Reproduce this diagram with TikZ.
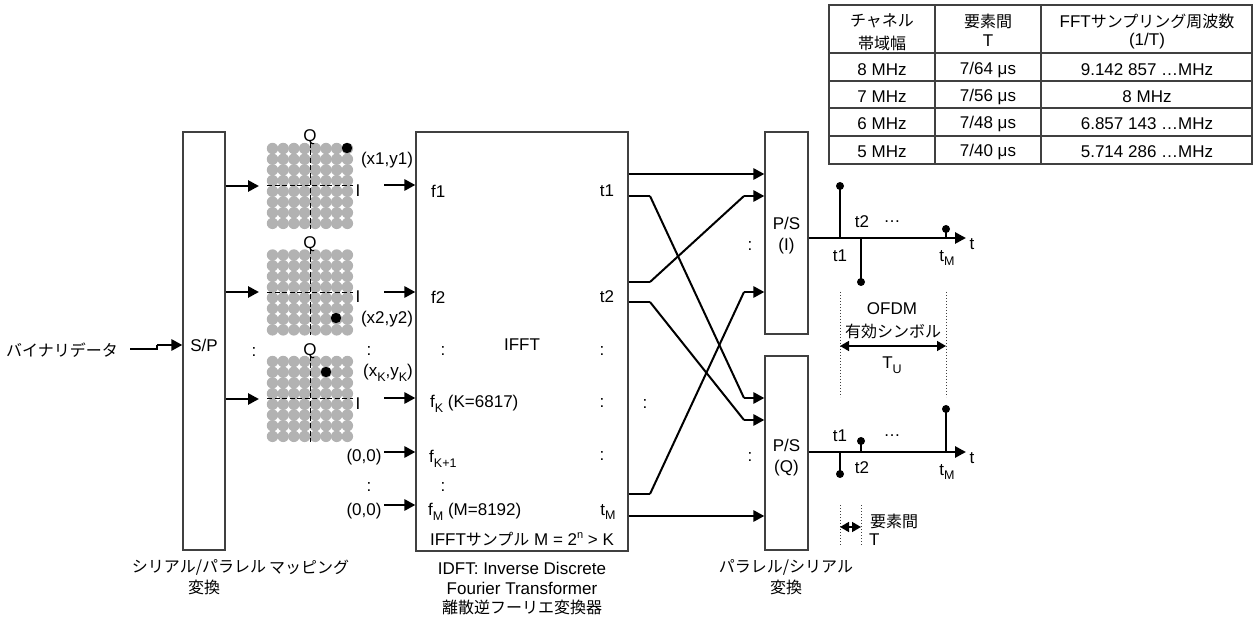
\documentclass[tikz,border=0pt]{standalone}
\usepackage{fontspec}
\usepackage{tikz}
\usetikzlibrary{arrows.meta}
\setmainfont{Liberation Sans}
\newfontfamily\cjk{Noto Sans CJK JP}
\newcommand{\subtxt}[1]{\raisebox{-0.5ex}{\fontsize{12.5}{12.5}\selectfont #1}}
\definecolor{dotgray}{gray}{0.70}
\definecolor{boxgray}{gray}{0.25}
\tikzset{
  lbl/.style={inner sep=0pt,font=\fontsize{17}{19}\selectfont,align=center},
  jlbl/.style={lbl,font=\fontsize{16}{18}\selectfont\cjk},
  blockbox/.style={draw=boxgray,line width=1.2pt,fill=white,inner sep=0pt},
  sig/.style={line width=2.8pt,-{Triangle[length=11pt,width=11pt]}},
  wire/.style={line width=2.8pt},
  cross/.style={line width=2pt},
  stem/.style={line width=1.3pt},
  gridline/.style={line width=1.4pt,color=boxgray},
  spec/.style={dotted,line width=1pt,color=boxgray},
  span/.style={line width=1.6pt,{Triangle[length=9pt,width=10pt]}-{Triangle[length=9pt,width=10pt]}},
  axisline/.style={dashed,line width=.8pt,dash pattern=on 5pt off 2.5pt}
}
\begin{document}
\begin{tikzpicture}[x=1pt,y=-1pt]
        \useasboundingbox (0,0) rectangle (1254,628);
        % blocks
        \draw (204,341) node[blockbox,minimum width=42,minimum height=418] (sp) {};
        \draw (522,341.5) node[blockbox,minimum width=212,minimum height=419] (ifft) {};
        \draw (786.5,233) node[blockbox,minimum width=43,minimum height=202] (psi) {};
        \draw (786.5,453) node[blockbox,minimum width=43,minimum height=194] (psq) {};
        \draw (204,345) node[lbl] (sptxt) {S/P};
        \draw (522,345) node[lbl] (iffttxt) {IFFT};
        \draw (786.5,235.5) node[lbl] (psitxt) {P/S\\[2pt](I)};
        \draw (786.5,458) node[lbl] (psqtxt) {P/S\\[2pt](Q)};
        % constellations
        \foreach \cy/\dx/\dy/\qy [count=\n] in {186/347/148/137, 292.5/336/318/244, 399/326/372/351}{
            \foreach \i in {0,...,7}{
                \foreach \j in {0,...,7}{
                    \fill[dotgray] (272.5+10.7*\i,\cy-37.5+10.7*\j) circle (5.7);
                }
            }
            \draw[axisline] (267,\cy-.5) -- (353,\cy-.5);
            \draw[axisline] (310,\cy-43) -- (310,\cy+43);
            \fill (\dx,\dy) circle (5.2);
            \draw (310,\qy) node[lbl] (q\n) {Q};
            \draw (358,\cy+4.5) node[lbl] (i\n) {I};
        }
        % input side
        \draw (62,350) node[jlbl] (bin) {バイナリデータ};
        \coordinate (binend) at (130,349);
        \coordinate (binstep) at (157,345);
        \draw[wire] (binend) -- (binstep |- binend) -- (binstep);
        \draw[sig] (binstep) -- (binstep -| sp.west);
        \draw (254,352) node[lbl] (dots1) {:};
        \foreach \y in {186,292,399}{
            \coordinate (spout) at (259,\y);
            \draw[sig] (spout -| sp.east) -- (spout);
        }
        \foreach \y in {185,292,398,452,505}{
            \coordinate (fin) at (384,\y);
            \draw[sig] (fin) -- (fin -| ifft.west);
        }
        \draw (387,160) node[lbl] (p1) {(x1,y1)};
        \draw (387,319) node[lbl] (p2) {(x2,y2)};
        \draw (369,351) node[lbl] (dots2) {:};
        \draw (388,373) node[lbl] (pk) {(x\subtxt{K},y\subtxt{K})};
        \draw (364,457) node[lbl] (z1) {(0,0)};
        \draw (369,487) node[lbl] (dots3) {:};
        \draw (364,511) node[lbl] (z2) {(0,0)};
        % IFFT labels
        \draw (431,191) node[lbl,anchor=west] (f1) {f1};
        \draw (431,297) node[lbl,anchor=west] (f2) {f2};
        \draw (443,351) node[lbl] (dots4) {:};
        \draw (430,404) node[lbl,anchor=west] (fk) {f\subtxt{K} (K=6817)};
        \draw (429,459) node[lbl,anchor=west] (fk1) {f\subtxt{K+1}};
        \draw (443,487) node[lbl] (dots5) {:};
        \draw (428,512) node[lbl,anchor=west] (fm) {f\subtxt{M} (M=8192)};
        \draw (522,539) node[lbl] (ifftm) {IFFT{\fontsize{16}{18}\selectfont\cjk サンプル} M = 2\raisebox{.7ex}{\fontsize{11}{11}\selectfont n} > K};
        \draw (607,191) node[lbl] (t1) {t1};
        \draw (607,297) node[lbl] (t2) {t2};
        \draw (602,351) node[lbl] (dots6) {:};
        \draw (602,403) node[lbl] (dots7) {:};
        \draw (602,456) node[lbl] (dots8) {:};
        \draw (608,512) node[lbl] (tm) {t\subtxt{M}};
        \draw (645,404) node[lbl] (dots9) {:};
        \draw (750,246) node[lbl] (dots10) {:};
        \draw (750,457) node[lbl] (dots11) {:};
        % crossing connectors
        \coordinate (a1) at (650,196);
        \coordinate (b1) at (744,398);
        \draw[wire] (a1 -| ifft.east) -- (a1);
        \draw[cross] (a1) -- (b1);
        \draw[sig] (b1) -- (b1 -| psq.west);
        \coordinate (a2) at (650,282);
        \coordinate (b2) at (744,196);
        \draw[wire] (a2 -| ifft.east) -- (a2);
        \draw[cross] (a2) -- (b2);
        \draw[sig] (b2) -- (b2 -| psi.west);
        \coordinate (a3) at (650,302);
        \coordinate (b3) at (744,420);
        \draw[wire] (a3 -| ifft.east) -- (a3);
        \draw[cross] (a3) -- (b3);
        \draw[sig] (b3) -- (b3 -| psq.west);
        \coordinate (a4) at (650,494);
        \coordinate (b4) at (744,292);
        \draw[wire] (a4 -| ifft.east) -- (a4);
        \draw[cross] (a4) -- (b4);
        \draw[sig] (b4) -- (b4 -| psi.west);
        \coordinate (a5) at (650,174);
        \draw[sig] (a5 -| ifft.east) -- (a5 -| psi.west);
        \coordinate (a6) at (650,516);
        \draw[sig] (a6 -| ifft.east) -- (a6 -| psq.west);
        % upper time axis
        \coordinate (tu) at (966,238);
        \coordinate (tl) at (966,452);
        \draw[sig] (tu -| psi.east) -- (tu);
        \draw[stem] (840,238) -- (840,186);
        \fill (840,186) circle (4);
        \draw[stem] (861,238) -- (861,282);
        \fill (861,282) circle (4);
        \draw[stem] (946,238) -- (946,229);
        \fill (946,229) circle (4);
        \draw (972,244) node[lbl] (tau) {t};
        \draw (840,256) node[lbl] (u1) {t1};
        \draw (862,222) node[lbl] (u2) {t2};
        \draw (892,222) node[lbl] (udots) {\ldots};
        \draw (947,258) node[lbl] (um) {t\subtxt{M}};
        \draw[spec] (840,292) -- (840,397);
        \draw[spec] (946,292) -- (946,397);
        \draw (892,309) node[lbl] (ofdm) {OFDM};
        \draw (893,331) node[jlbl] (yuko) {有効シンボル};
        \coordinate (spana) at (840,346);
        \coordinate (spanb) at (946,346);
        \draw[span] (spana) -- (spanb);
        \draw (892,365) node[lbl] (tuu) {T\subtxt{U}};
        % lower time axis
        \draw[sig] (tl -| psq.east) -- (tl);
        \draw[stem] (840,452) -- (840,474);
        \fill (840,474) circle (4);
        \draw[stem] (861,452) -- (861,441);
        \fill (861,441) circle (4);
        \draw[stem] (946,452) -- (946,409);
        \fill (946,409) circle (4);
        \draw (972,458) node[lbl] (tal) {t};
        \draw (840,436) node[lbl] (l1) {t1};
        \draw (862,468) node[lbl] (l2) {t2};
        \draw (892,436) node[lbl] (ldots) {\ldots};
        \draw (947,472) node[lbl] (lm) {t\subtxt{M}};
        \draw[spec] (840,505) -- (840,545);
        \draw[spec] (861,505) -- (861,545);
        \coordinate (elema) at (840,527);
        \coordinate (elemb) at (861,527);
        \draw[span] (elema) -- (elemb);
        \draw (870,521) node[jlbl,anchor=west] (elem) {要素間};
        \draw (869,540) node[lbl,anchor=west] (elemt) {T};
        % captions
        \draw (199,567) node[jlbl] (cap1) {シリアル/パラレル};
        \draw (204,587) node[jlbl] (cap2) {変換};
        \draw (309,567) node[jlbl] (cap3) {マッピング};
        \draw (522,568) node[lbl] (cap4) {IDFT: Inverse Discrete};
        \draw (522,588) node[lbl] (cap5) {Fourier Transformer};
        \draw (522,607) node[jlbl] (cap6) {離散逆フーリエ変換器};
        \draw (786,567) node[jlbl] (cap7) {パラレル/シリアル};
        \draw (786,587) node[jlbl] (cap8) {変換};
        % table
        \draw[gridline] (829,5) rectangle (1252,164);
        \foreach \y in {53,81,108,136}{
            \draw[gridline] (829,\y) -- (1252,\y);
        }
        \draw[gridline] (935,5) -- (935,164);
        \draw[gridline] (1041,5) -- (1041,164);
        \draw (882,21) node[jlbl] (h1a) {チャネル};
        \draw (882,43) node[jlbl] (h1b) {帯域幅};
        \draw (988,21) node[jlbl] (h2a) {要素間};
        \draw (988,41) node[lbl] (h2b) {T};
        \draw (1147,21) node[lbl] (h3a) {FFT{\fontsize{16}{18}\selectfont\cjk サンプリング周波数}};
        \draw (1147,41) node[lbl] (h3b) {(1/T)};
        \foreach \y/\band/\spc/\freq [count=\r] in {70/8 MHz/7\slash 64/9.142 857 \ldots MHz, 97/7 MHz/7\slash 56/8 MHz, 124/6 MHz/7\slash 48/6.857 143 \ldots MHz, 152/5 MHz/7\slash 40/5.714 286 \ldots MHz}{
            \draw (882,\y) node[lbl] (band\r) {\band};
            \draw (988,\y) node[lbl] (spc\r) {\spc{} μs};
            \draw (1147,\y) node[lbl] (freq\r) {\freq};
        }
\end{tikzpicture}
\end{document}
